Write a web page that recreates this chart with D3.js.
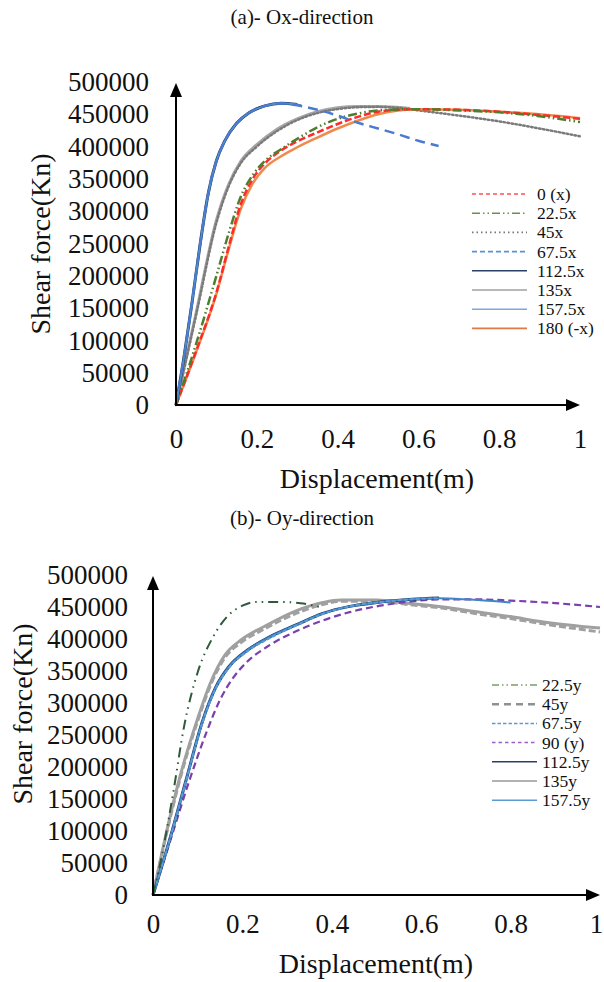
<!DOCTYPE html>
<html><head><meta charset="utf-8">
<script src="https://cdn.jsdelivr.net/npm/d3@7/dist/d3.min.js"></script>
<style>body{margin:0;background:#fff}svg{display:block}text{font-family:"Liberation Serif","Times New Roman",serif;fill:#111}</style>
</head><body><svg id="c" width="604" height="982"></svg>
<script>
// ---------- data ----------
const xTicks = [0, 0.2, 0.4, 0.6, 0.8, 1];
const yTicks = [0, 50000, 100000, 150000, 200000, 250000, 300000, 350000, 400000, 450000, 500000];

// (a) Ox-direction
const a_0x    = [[0,0],[0.05,84000],[0.1,174000],[0.13,244000],[0.16,310000],[0.19,350000],[0.22,374000],[0.26,394000],[0.3,408000],[0.35,422000],[0.4,435000],[0.45,446000],[0.5,454000],[0.55,457000],[0.6,458000],[0.7,457000],[0.8,454000],[0.9,449000],[1.0,443000]];
const a_22_5x = [[0,0],[0.05,95000],[0.1,200000],[0.13,265000],[0.16,322000],[0.19,356000],[0.22,378000],[0.26,396000],[0.3,412000],[0.35,430000],[0.4,443000],[0.45,451000],[0.5,456000],[0.6,458000],[0.7,456000],[0.8,453000],[0.9,447000],[1.0,438000]];
const a_45x   = [[0,0],[0.05,140000],[0.1,282000],[0.13,338000],[0.16,374000],[0.2,400000],[0.25,424000],[0.3,441000],[0.35,452000],[0.4,458000],[0.45,461000],[0.5,461500],[0.55,460000],[0.6,456000],[0.7,448000],[0.8,439000],[0.9,428000],[1.0,416000]];
const a_67_5x = [[0,0],[0.02,75000],[0.04,160000],[0.06,250000],[0.08,328000],[0.1,378000],[0.12,408000],[0.15,436000],[0.18,452000],[0.22,463000],[0.26,467000],[0.3,464000],[0.35,457000],[0.4,448000],[0.45,437000],[0.5,428000],[0.55,419000],[0.6,409000],[0.65,401000]];
const a_112_5x= [[0,0],[0.02,75000],[0.04,160000],[0.06,250000],[0.08,328000],[0.1,378000],[0.12,408000],[0.15,436000],[0.18,452000],[0.22,463000],[0.26,467000],[0.3,465000]];
const a_135x  = [[0,0],[0.05,143000],[0.1,286000],[0.13,341000],[0.16,377000],[0.2,403000],[0.25,427000],[0.3,443000],[0.35,454000],[0.4,460000],[0.45,462000],[0.5,462000],[0.58,459000]];
const a_157_5x= [[0,0],[0.02,75000],[0.04,160000],[0.06,250000],[0.08,328000],[0.1,378000],[0.12,408000],[0.15,436000],[0.18,452000],[0.22,463000],[0.26,467000],[0.31,464000]];
const a_180x  = [[0,0],[0.05,82000],[0.1,172000],[0.13,240000],[0.16,303000],[0.19,343000],[0.22,367000],[0.26,385000],[0.3,399000],[0.35,414000],[0.4,428000],[0.45,440000],[0.5,450000],[0.55,456000],[0.6,458000],[0.7,457000],[0.8,454000],[0.9,450000],[1.0,444000]];

// (b) Oy-direction
const b_22_5y = [[0,0],[0.02,62000],[0.045,159000],[0.07,265000],[0.1,348000],[0.135,404000],[0.17,438000],[0.2,452000],[0.23,458000],[0.28,458000],[0.33,456000],[0.38,449000]];
const b_45y   = [[0,0],[0.025,80000],[0.06,180000],[0.1,272000],[0.13,330000],[0.16,370000],[0.2,396000],[0.25,416000],[0.32,440000],[0.38,454000],[0.42,459000],[0.5,459000],[0.57,454000],[0.65,448000],[0.72,440000],[0.8,432000],[0.87,424000],[1.0,411000]];
const b_67_5y = [[0,0],[0.04,92000],[0.075,180000],[0.11,268000],[0.14,322000],[0.17,355000],[0.21,380000],[0.26,401000],[0.32,421000],[0.38,439000],[0.44,451000],[0.5,457000],[0.58,462000],[0.64,463500]];
const b_90y   = [[0,0],[0.04,88000],[0.08,176000],[0.12,255000],[0.15,305000],[0.18,340000],[0.21,364000],[0.26,390000],[0.32,412000],[0.38,429000],[0.44,442000],[0.5,451000],[0.57,458000],[0.64,462000],[0.72,462000],[0.8,460000],[0.9,456000],[1.0,450000]];
const b_112_5y= [[0,0],[0.04,93000],[0.075,182000],[0.11,270000],[0.14,324000],[0.17,357000],[0.21,382000],[0.26,403000],[0.32,422000],[0.38,440000],[0.44,451000],[0.5,457000],[0.58,462000],[0.64,464000]];
const b_135y  = [[0,0],[0.025,82000],[0.06,184000],[0.1,276000],[0.13,334000],[0.16,374000],[0.2,400000],[0.25,420000],[0.32,444000],[0.38,457000],[0.42,461000],[0.5,461000],[0.57,456000],[0.65,450000],[0.72,443000],[0.8,435000],[0.87,427000],[1.0,417000]];
const b_157_5y= [[0,0],[0.04,93000],[0.075,182000],[0.11,270000],[0.14,324000],[0.17,357000],[0.21,382000],[0.26,403000],[0.32,422000],[0.38,440000],[0.44,451000],[0.5,457000],[0.58,462000],[0.64,463500],[0.7,462000],[0.8,457000]];

const namesA = ["0 (x)","22.5x","45x","67.5x","112.5x","135x","157.5x","180 (-x)"];
const namesB = ["22.5y","45y","67.5y","90 (y)","112.5y","135y","157.5y"];

// ---------- styles ----------
const stylesA = [
  {c:"#ff2a2a", w:2.5, d:"7,3"},
  {c:"#4f7d2e", w:2.5, d:"9,3,1.5,3,1.5,3"},
  {c:"#7a7a7a", w:2.5, d:"1.5,2.5"},
  {c:"#4a7bd0", w:2.5, d:"10,6"},
  {c:"#1f3864", w:3, d:null},
  {c:"#a6a6a6", w:3, d:null},
  {c:"#4f8fcf", w:2, d:null},
  {c:"#f08a4b", w:2.5, d:null}
];
const stylesB = [
  {c:"#2f5a3a", w:2, d:"10,5,1.5,5,1.5,5"},
  {c:"#a0a0a0", w:3, d:"7,3"},
  {c:"#5b9bd5", w:2, d:"4,2"},
  {c:"#7b3fb0", w:2.2, d:"7,4"},
  {c:"#1f3864", w:3, d:null},
  {c:"#a0a0a0", w:3, d:null},
  {c:"#3f86c8", w:2, d:null}
];
const legStylesA = [
  {c:"#ff5050", d:"4,3"},{c:"#6a8f4e", d:"8,3,1.5,3,1.5,3"},{c:"#777", d:"1.5,3"},{c:"#5b8fd6", d:"5,3"},
  {c:"#2a3f66", d:null},{c:"#a0a0a0", d:null},{c:"#7aaad8", d:null},{c:"#e07a45", d:null}
];
const legStylesB = [
  {c:"#7a9c6a", d:"7,3,1.5,3,1.5,3", w:1.5},{c:"#909090", d:"7,5", w:2.5},{c:"#5b9bd5", d:"3.5,2", w:1.5},{c:"#9a60c8", d:"3.5,3", w:1.5},
  {c:"#2a3f66", d:null, w:1.5},{c:"#999", d:null, w:1.5},{c:"#5b9bd5", d:null, w:1.5}
];

const svg = d3.select("#c");

function arrow(g, x, y, dir) {
  const L = 14, H = 6;
  const p = dir === "up"
    ? [[x, y], [x - H, y + L], [x + H, y + L]]
    : [[x, y], [x - L, y - H], [x - L, y + H]];
  g.append("path").attr("d", d3.line()(p) + "Z").attr("fill", "#000");
}

function chart(opt) {
  const x = d3.scaleLinear().domain([0, 1]).range(opt.xr);
  const y = d3.scaleLinear().domain([0, 500000]).range(opt.yr);
  const g = svg.append("g");

  g.append("text").attr("x", 302).attr("y", opt.titleY).attr("text-anchor", "middle")
    .style("font-size", "21px").text(opt.title);

  const line = d3.line().x(d => x(d[0])).y(d => y(d[1])).curve(d3.curveMonotoneX);
  opt.series.forEach((s, i) => {
    const st = opt.styles[i];
    g.append("path").datum(s).attr("d", line).attr("fill", "none")
      .attr("stroke", st.c).attr("stroke-width", st.w)
      .attr("stroke-dasharray", st.d).attr("stroke-linejoin", "round")
      .attr("stroke-linecap", st.d && st.d.startsWith("1.5") ? "round" : "butt");
  });

  const yAx = g.append("g").attr("transform", `translate(${x(0)},0)`)
    .call(d3.axisLeft(y).tickValues(yTicks).tickSize(0).tickPadding(opt.yPad).tickFormat(d3.format("d")));
  yAx.select(".domain").remove();
  yAx.selectAll("text").style("font-size", "27px").attr("fill", "#111").style("font-family", '"Liberation Serif",serif');

  const xAx = g.append("g").attr("transform", `translate(0,${y(0)})`)
    .call(d3.axisBottom(x).tickValues(xTicks).tickSize(0).tickPadding(opt.xPad).tickFormat(d => String(d)));
  xAx.select(".domain").remove();
  xAx.selectAll("text").style("font-size", "27px").attr("fill", "#111").style("font-family", '"Liberation Serif",serif')
    .attr("dx", d => (d === 1 ? opt.lastDx : 0));

  g.append("line").attr("x1", x(0)).attr("y1", y(0)).attr("x2", x(0)).attr("y2", y(500000) + 10)
    .attr("stroke", "#000").attr("stroke-width", 2);
  arrow(g, x(0), y(500000) + 1, "up");
  g.append("line").attr("x1", x(0) - 1).attr("y1", y(0)).attr("x2", x(1) - 10).attr("y2", y(0))
    .attr("stroke", "#000").attr("stroke-width", 2);
  arrow(g, x(1), y(0), "right");

  g.append("text").attr("x", opt.xTitle[0]).attr("y", opt.xTitle[1]).attr("text-anchor", "middle")
    .style("font-size", "28px").text("Displacement(m)");
  g.append("text").attr("transform", `translate(${opt.yTitle[0]},${opt.yTitle[1]}) rotate(-90)`)
    .attr("text-anchor", "middle").attr("dominant-baseline", "central")
    .style("font-size", "28px").text("Shear force(Kn)");

  const lg = g.append("g");
  opt.names.forEach((n, i) => {
    const yy = opt.leg.y + i * opt.leg.dy;
    const st = opt.legStyles[i];
    lg.append("line").attr("x1", opt.leg.x1).attr("x2", opt.leg.x2).attr("y1", yy).attr("y2", yy)
      .attr("stroke", st.c).attr("stroke-width", st.w || 1.6).attr("stroke-dasharray", st.d);
    lg.append("text").attr("x", opt.leg.tx).attr("y", yy).attr("dominant-baseline", "central")
      .style("font-size", "17.5px").text(n);
  });
}

chart({
  title: "(a)- Ox-direction", titleY: 24,
  xr: [176, 580], yr: [405, 82],
  yPad: 27, xPad: 24, lastDx: 0,
  xTitle: [377, 488], yTitle: [40, 244],
  series: [a_135x, a_45x, a_180x, a_0x, a_22_5x, a_112_5x, a_157_5x, a_67_5x],
  styles: [stylesA[5], stylesA[2], stylesA[7], stylesA[0], stylesA[1], stylesA[4], stylesA[6], stylesA[3]],
  names: namesA, legStyles: legStylesA,
  leg: {x1: 472, x2: 527, tx: 537, y: 194, dy: 19.2}
});

chart({
  title: "(b)- Oy-direction", titleY: 525,
  xr: [153, 600], yr: [895, 575],
  yPad: 25, xPad: 19, lastDx: -4,
  xTitle: [376, 973], yTitle: [22, 714],
  series: [b_135y, b_45y, b_90y, b_112_5y, b_157_5y, b_67_5y, b_22_5y],
  styles: [stylesB[5], stylesB[1], stylesB[3], stylesB[4], stylesB[6], stylesB[2], stylesB[0]],
  names: namesB, legStyles: legStylesB,
  leg: {x1: 492, x2: 537, tx: 542, y: 685, dy: 19.2}
});
</script></body></html>
